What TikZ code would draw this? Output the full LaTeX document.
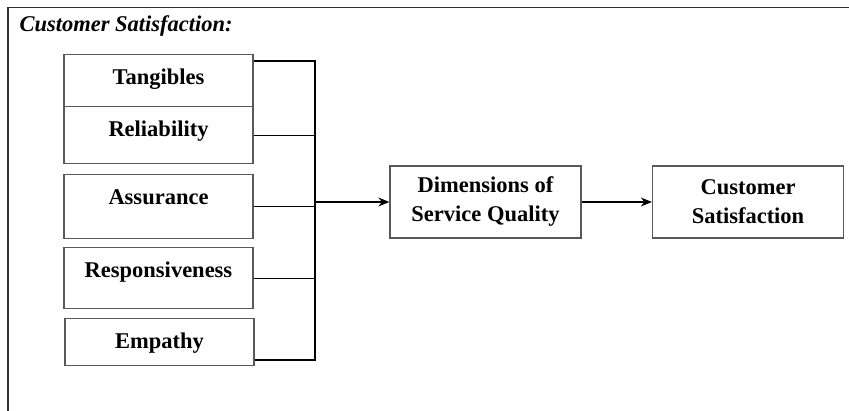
\documentclass[tikz,border=0pt]{standalone}
\usepackage{fontspec}
\setmainfont{Liberation Serif}
\usetikzlibrary{calc, arrows.meta}
\tikzset{>={Stealth[length=11pt, width=9pt]}}
\tikzset{
  dimbox/.style={draw=black!65, line width=1.3pt, anchor=north, inner sep=0pt,
    minimum width=189pt, text height=30pt,
    font=\fontsize{22.5}{27}\selectfont\bfseries},
  mainbox/.style={draw=black!65, line width=1.3pt, inner sep=0pt,
    minimum width=191pt, minimum height=72pt, align=center,
    font=\fontsize{22.5}{29}\selectfont\bfseries},
  link/.style={line width=1.2pt},
  bus/.style={line width=2.2pt}
}

\begin{document}
\begin{tikzpicture}[x=1pt, y=-1pt]
    \useasboundingbox (0,0) rectangle (849,411);
    \draw[line width=1.6pt, black!80] (8,411) -- (8,7.5) -- (849,7.5);
    \node[anchor=west, font=\fontsize{22.5}{27}\selectfont\bfseries\itshape] (title) at (16,26) {Customer Satisfaction:};

    \node[dimbox, text depth=22pt] (tang) at (158.5,54) {Tangibles};
    \node[dimbox, text depth=27pt] (rel) at (158.5,106) {Reliability};
    \node[dimbox, text depth=34pt] (ass) at (158.5,174) {Assurance};
    \node[dimbox, text depth=31pt] (resp) at (158.5,247) {Responsiveness};
    \node[dimbox, text depth=17pt] (emp) at (159.5,318) {Empathy};

    \node[mainbox] (dim) at (485.5,202) {Dimensions of\\Service Quality};
    \node[mainbox] (cs) at (748,202) {Customer\\Satisfaction};

    \coordinate (bustop) at (315,61);
    \coordinate (busbot) at (315,360);
    \draw[bus] (tang.north east |- bustop) -- (bustop) -- (busbot) -- (emp.east |- busbot);
    \draw[link] (rel.east) -- (rel.east -| bustop);
    \draw[link] (ass.east) -- (ass.east -| bustop);
    \draw[link] (resp.east) -- (resp.east -| bustop);
    \draw[link, ->] (dim.west -| bustop) -- (dim.west);
    \draw[link, ->] (dim.east) -- (cs.west);
\end{tikzpicture}
\end{document}
